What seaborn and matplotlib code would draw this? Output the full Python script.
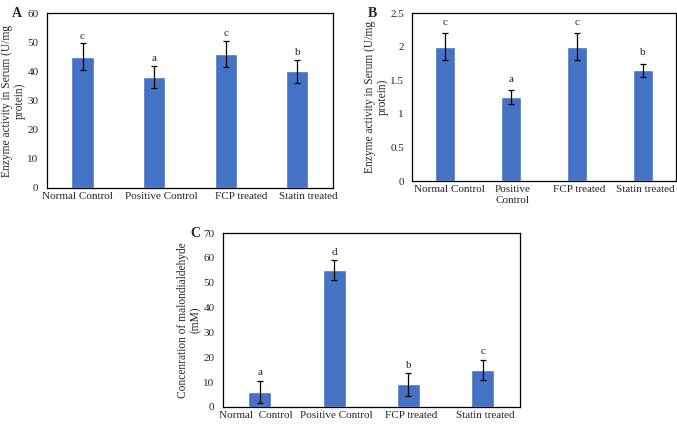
import numpy as np
import pandas as pd
import matplotlib
matplotlib.use("Agg")
import matplotlib.pyplot as plt
import seaborn as sns

sns.set_style("white")
plt.rcParams["font.family"] = ["Liberation Serif", "DejaVu Serif"]

groups_ab = ["Normal Control", "Positive Control", "FCP treated", "Statin treated"]
labels_b = ["Normal Control", "Positive\nControl", "FCP treated", "Statin treated"]
labels_c = ["Normal  Control", "Positive Control", "FCP treated", "Statin treated"]

vals_a = [45, 38, 46, 40]
err_a = [4.6, 3.8, 4.6, 4.0]
sig_a = ["c", "a", "c", "b"]

vals_b = [2.0, 1.25, 2.0, 1.65]
err_b = [0.2, 0.1, 0.2, 0.1]
sig_b = ["c", "a", "c", "b"]

vals_c = [6, 55, 9, 15]
err_c = [4.5, 4.0, 4.5, 4.0]
sig_c = ["a", "d", "b", "c"]

blue = "#4472C4"


def panel(ax, vals, errs, sigs, ticklabels, ymax, ystep, ylabel, letter,
          sig_pad, letter_x, label_shift):
    df = pd.DataFrame({"group": groups_ab, "value": vals})
    sns.barplot(data=df, x="group", y="value", color=blue, width=0.31,
                saturation=1, errorbar=None, ax=ax)
    xs = np.arange(len(vals))
    ax.errorbar(xs, vals, yerr=errs, fmt="none", ecolor="black",
                elinewidth=0.9, capsize=2.2, capthick=0.9)
    for x, v, e, s in zip(xs, vals, errs, sigs):
        ax.text(x, v + e + sig_pad, s, ha="center", va="bottom", fontsize=8)
    ax.set_xlim(-0.5, len(vals) - 0.5)
    ax.set_ylim(0, ymax)
    yt = np.arange(0, ymax + ystep / 2, ystep)
    ax.set_yticks(yt)
    ax.set_yticklabels([f"{t:g}" for t in yt], fontsize=8)
    # label positions nudged like the Excel layout; major ticks are invisible
    ax.set_xticks(xs + np.array(label_shift))
    ax.set_xticklabels(ticklabels, fontsize=8)
    ax.set_xticks(xs[:-1] + 0.5, minor=True)
    ax.tick_params(axis="x", which="major", length=0, pad=3)
    ax.tick_params(axis="x", which="minor", direction="in", length=3, width=0.8)
    ax.tick_params(axis="y", length=0, pad=6)
    ax.set_xlabel("")
    ax.set_ylabel(ylabel, fontsize=8.3, labelpad=1, linespacing=1.1)
    for sp in ax.spines.values():
        sp.set_visible(True)
        sp.set_color("black")
        sp.set_linewidth(0.9)
    ax.text(letter_x, 1.0, letter, transform=ax.transAxes, fontsize=10,
            fontweight="bold", ha="left", va="center")


fig = plt.figure(figsize=(6.77, 4.26), dpi=100)
ax_a = fig.add_axes([0.069, 0.559, 0.423, 0.41])
ax_b = fig.add_axes([0.609, 0.575, 0.389, 0.394])
ax_c = fig.add_axes([0.329, 0.045, 0.439, 0.408])

panel(ax_a, vals_a, err_a, sig_a, groups_ab, 60, 10,
      "Enzyme activity in Serum (U/mg\nprotein)", "A", 1.0, -0.12,
      [-0.07, 0.10, 0.21, 0.15])
panel(ax_b, vals_b, err_b, sig_b, labels_b, 2.5, 0.5,
      "Enzyme activity in Serum (U/mg\nprotein)", "B", 0.1, -0.17,
      [0.06, 0.03, 0.03, 0.04])
panel(ax_c, vals_c, err_c, sig_c, labels_c, 70, 10,
      "Concenration of malondialdehyde\n(mM)", "C", 1.5, -0.11,
      [-0.05, 0.03, 0.04, 0.03])

fig.savefig("out.png", dpi=100)
